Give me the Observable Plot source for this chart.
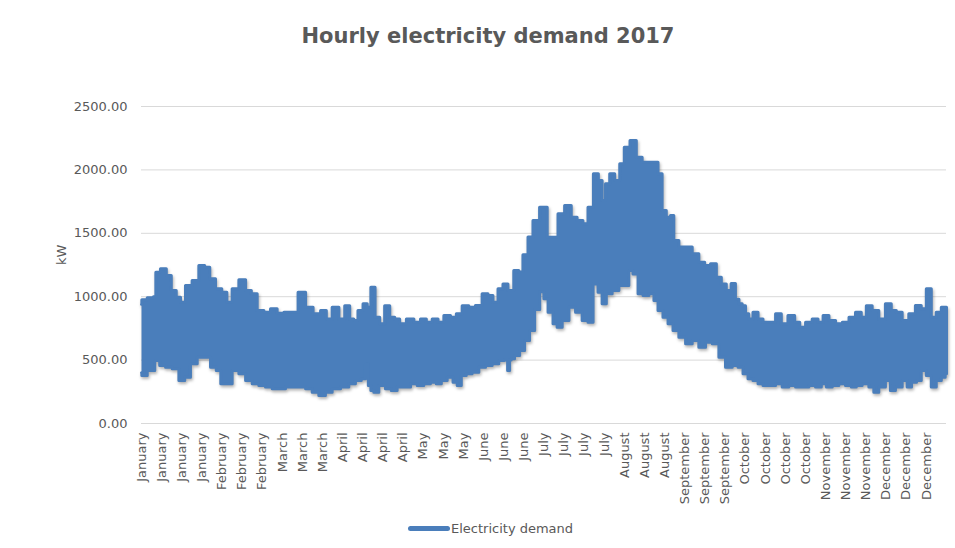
<!DOCTYPE html>
<html>
<head>
<meta charset="utf-8">
<script src="https://cdn.jsdelivr.net/npm/d3@7"></script>
<script src="https://cdn.jsdelivr.net/npm/@observablehq/plot@0.6"></script>
<style>
  html, body { margin: 0; padding: 0; background: #ffffff; }
  body { width: 955px; height: 548px; position: relative; overflow: hidden; font-family: "DejaVu Sans", sans-serif; }
  #title { position: absolute; top: 26px; left: 488px; transform: translateX(-50%); white-space: nowrap;
           font-size: 21px; line-height: 21px; font-weight: bold; color: #595959; }
  #chart { position: absolute; top: 70px; left: 0; }
  #legend { position: absolute; top: 519px; left: 408px; height: 18px; display: flex; align-items: center;
            font-size: 13px; color: #595959; white-space: nowrap; }
  #legend .swatch { display: inline-block; width: 42px; height: 5px; border-radius: 3px; background: #4a7ebb; margin-right: 1px; }
</style>
</head>
<body>
<div id="title">Hourly electricity demand 2017</div>
<div id="chart"></div>
<div id="legend"><span class="swatch"></span><span>Electricity demand</span></div>
<script>
// ---- data (day of year, kW) ----
const seriesName = "Electricity demand";
const yTicks = [0, 500, 1000, 1500, 2000, 2500];
const tickIntervalHours = 219;
const tickLabels = ["January","January","January","January","February","February","February",
  "March","March","March","April","April","April","April","May","May","May","June","June","June",
  "July","July","July","July","August","August","August","September","September","September",
  "October","October","October","October","November","November","November","December","December","December"];

// upper envelope of the hourly demand line
const upperDay = [0,0.3,4.9,5.9,7.1,10.1,12.4,14.6,16.9,18.5,21.4,24.5,27.5,29.8,32.1,35.0,37.8,39.6,42.6,45.7,
  48.7,50.9,54.0,57.0,60.0,63.0,66.1,69.1,72.9,75.9,79.7,82.7,84.9,88.0,91.0,93.3,95.5,97.0,99.3,101.6,
  103.1,104.9,106.9,109.1,111.4,113.7,115.9,118.2,122.0,125.0,128.0,130.3,133.3,135.6,138.6,141.6,143.9,146.9,149.9,152.9,
  156.0,158.2,160.5,162.8,165.0,167.3,170.3,171.8,174.1,176.4,178.6,182.4,185.5,187.7,190.0,193.7,196.0,199.0,201.3,203.6,
  206.2,208.1,209.6,211.2,213.4,215.7,218.0,219.8,223.2,225.5,228.5,233.1,235.3,236.8,239.1,240.6,242.1,245.2,248.2,251.2,
  254.2,256.5,259.5,261.8,264.0,266.3,268.4,270.2,271.6,273.1,274.6,276.1,278.4,280.7,282.9,286.0,289.0,291.2,295.0,297.3,
  299.6,302.6,305.6,307.9,310.2,313.2,316.2,319.3,322.3,325.2,327.5,329.8,332.8,335.8,338.8,341.1,343.4,346.4,349.4,352.4,
  354.7,357.0,359.2,361.5,363.8,365];
const upperKw = [940,975,991,1000,1193,1220,1167,1049,996,957,1088,1128,1246,1233,1141,1062,1036,957,1062,1133,
  1049,1023,891,878,904,870,878,878,1036,917,865,891,825,917,825,928,825,812,891,944,
  917,1075,838,786,928,838,825,786,825,799,825,799,825,799,852,838,865,928,917,930,
  1023,1009,957,1062,1101,1049,1207,1194,1330,1470,1600,1706,1469,1469,1654,1719,1627,1601,1575,1706,
  1969,1916,1759,1890,1969,1916,2048,2179,2232,2100,2061,2061,1969,1680,1627,1640,1443,1391,1391,1338,
  1272,1246,1259,1154,1101,1049,1104,980,944,928,865,825,878,825,799,799,865,786,852,799,
  760,799,825,799,852,812,786,799,838,878,838,928,891,825,944,891,878,812,865,930,
  904,1062,838,878,917,917];

// lower envelope of the hourly demand line
const lowerDay = [0,0.3,4.9,7.1,9.4,12.4,15.4,18.5,20.7,23.7,26.8,29.8,32.8,35.0,36.9,39.6,42.6,45.7,48.7,51.7,
  54.7,57.7,60.8,63.8,66.8,69.8,72.9,75.9,78.9,81.9,84.9,88.0,92.5,95.5,98.5,100.8,102.3,103.4,104.6,106.1,
  109.1,112.1,114.4,117.4,120.5,123.5,126.5,129.5,132.5,134.8,137.1,140.1,142.4,143.9,146.1,148.4,151.4,154.5,157.5,160.5,
  163.5,165.5,166.5,167.3,168.0,170.3,172.6,174.8,177.1,179.4,181.7,183.2,185.5,187.7,189.2,192.3,195.3,198.3,201.3,203.6,
  205.9,208.1,209.6,211.9,214.9,218.0,220.2,221.7,224.0,226.3,228.5,231.6,233.1,235.3,237.6,239.9,242.1,245.2,248.2,251.2,
  254.2,257.3,260.3,263.3,266.3,269.4,271.6,273.9,276.1,278.4,280.7,282.9,286.0,289.0,292.0,295.0,298.1,301.1,304.1,307.1,
  309.4,311.7,314.7,317.7,320.7,323.0,325.2,328.3,331.3,332.8,335.8,338.8,340.3,343.4,346.4,347.9,350.4,352.4,354.7,357.0,
  359.2,361.5,363.8,365];
const lowerKw = [400,379,418,497,457,444,431,339,365,471,523,523,444,418,313,313,418,392,339,313,
  300,287,274,274,287,287,287,274,247,221,247,274,287,313,339,352,471,300,260,247,
  300,274,260,287,287,313,300,313,326,313,339,365,326,300,379,392,405,444,457,471,
  497,500,418,500,510,536,576,655,733,900,1040,983,878,786,760,812,917,878,812,799,
  1101,1036,944,1023,1049,1088,1088,1207,1180,1023,1009,1023,970,891,838,786,733,681,628,655,
  602,641,628,523,444,457,444,392,352,339,313,300,300,313,287,300,287,287,300,287,
  313,287,300,313,300,287,300,313,287,247,287,339,260,287,339,287,326,339,418,379,
  287,339,365,392];

// ---- build ----
const blue = "#4a7ebb";
const upper = upperDay.map((d, i) => ({day: d, kw: upperKw[i]}));
const lower = lowerDay.map((d, i) => ({day: d, kw: lowerKw[i]}));
const outline = upper.concat(lower.slice().reverse());
const dayStep = tickIntervalHours / 24;
const tickDays = tickLabels.map((_, i) => i * dayStep);

const chart = Plot.plot({
  width: 955,
  height: 433,
  marginLeft: 141,
  marginRight: 9,
  marginTop: 36,
  marginBottom: 80,
  style: {fontFamily: "DejaVu Sans", fontSize: "13px", color: "#595959", background: "transparent", overflow: "visible"},
  x: {domain: [0, 365], ticks: tickDays, tickFormat: d => tickLabels[Math.round(d / dayStep)],
      tickRotate: -90, tickSize: 0, tickPadding: 9, label: null},
  y: {domain: [0, 2500], ticks: yTicks, tickFormat: d3.format(".2f"), tickSize: 0, tickPadding: 14, label: null},
  marks: [
    Plot.ruleY(yTicks, {stroke: "#d9d9d9", strokeWidth: 1}),
    Plot.line(outline, {x: "day", y: "kw", fill: blue, stroke: blue, strokeWidth: 3, curve: "step",
      strokeLinejoin: "round", strokeLinecap: "round", title: () => seriesName}),
    Plot.text(["kW"], {text: d => d, frameAnchor: "left", dx: -80, rotate: -90, fontSize: 13, fill: "#595959"})
  ]
});
document.getElementById("chart").appendChild(chart);
const p = chart.querySelector('g[aria-label="line"] path');
if (p) p.style.filter = "drop-shadow(1px 2px 1.5px rgba(0,0,0,0.3))";
</script>
</body>
</html>
